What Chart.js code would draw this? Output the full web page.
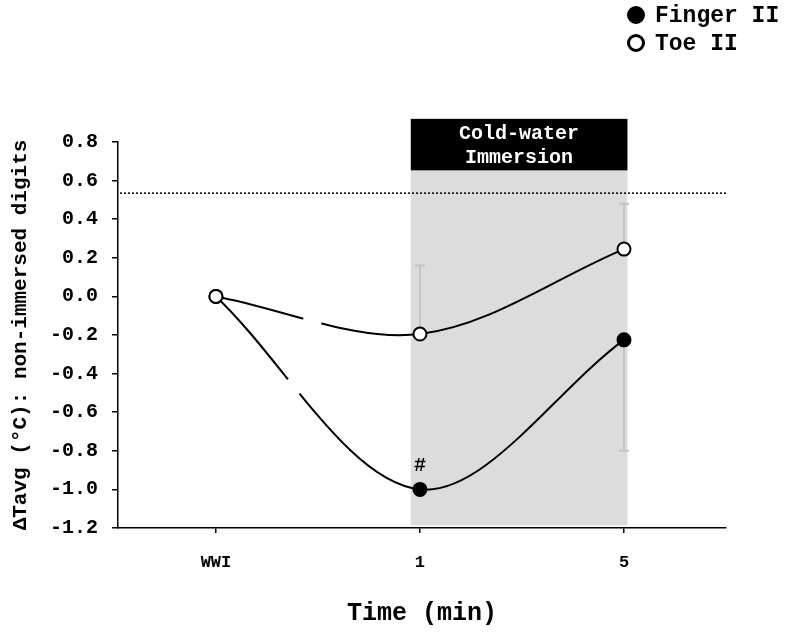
<!DOCTYPE html>
<html><head><meta charset="utf-8">
<script src="https://cdn.jsdelivr.net/npm/chart.js@4/dist/chart.umd.min.js"></script>
<style>html,body{margin:0;padding:0;background:#fff}#wrap{width:786px;height:641px;position:relative}</style>
</head><body><div id="wrap"><canvas id="c" width="786" height="641"></canvas></div>
<script>
const categories = ['WWI', '1', '5'];
const fingerII = [0.0, -1.0, -0.225];
const toeII = [0.0, -0.195, 0.245];
const fingerErrDown = [0, 0, 0.575];
const toeErrUp = [0, 0.355, 0.235];
const yTicks = [0.8, 0.6, 0.4, 0.2, 0.0, -0.2, -0.4, -0.6, -0.8, -1.0, -1.2];
const immersionRange = [0.955, 2.017];
const shadeY = [-1.187, 0.653];
const boxTopY = 0.92;
const refLineY = 0.535;
const toeBreak = [0.426, 0.519];
const fingerBreak = [0.353, 0.411];
const FONT = "'Liberation Mono', 'Courier New', monospace";

const ptsF = fingerII.map((v, i) => ({x: i, y: v}));
const ptsT = toeII.map((v, i) => ({x: i, y: v}));

function drawBreak(chart, dsIndex, range) {
  const {ctx, scales: {x}} = chart;
  const pts = chart.getDatasetMeta(dsIndex).data;
  const p0 = pts[0], p1 = pts[1];
  const bz = (t, a, b, c, d) => {
    const u = 1 - t;
    return u*u*u*a + 3*u*u*t*b + 3*u*t*t*c + t*t*t*d;
  };
  const xa = x.getPixelForValue(range[0]), xb = x.getPixelForValue(range[1]);
  ctx.save();
  ctx.strokeStyle = '#fff'; ctx.lineWidth = 6; ctx.lineCap = 'butt';
  ctx.beginPath();
  let started = false;
  for (let i = 0; i <= 400; i++) {
    const t = i / 400;
    const px = bz(t, p0.x, p0.cp2x, p1.cp1x, p1.x);
    const py = bz(t, p0.y, p0.cp2y, p1.cp1y, p1.y);
    if (px >= xa && px <= xb) {
      if (!started) { ctx.moveTo(px, py); started = true; } else ctx.lineTo(px, py);
    }
  }
  ctx.stroke();
  ctx.restore();
}

const decor = {
  id: 'decor',
  beforeDatasetsDraw(chart) {
    const {ctx, scales: {x, y}} = chart;
    ctx.save();
    const x0 = x.getPixelForValue(immersionRange[0]), x1 = x.getPixelForValue(immersionRange[1]);
    ctx.fillStyle = '#dcdcdc';
    ctx.fillRect(x0, y.getPixelForValue(shadeY[1]), x1 - x0, y.getPixelForValue(shadeY[0]) - y.getPixelForValue(shadeY[1]));
    ctx.fillStyle = '#000';
    const by0 = y.getPixelForValue(boxTopY), by1 = y.getPixelForValue(shadeY[1]);
    ctx.fillRect(x0, by0, x1 - x0, by1 - by0);
    ctx.fillStyle = '#fff';
    ctx.font = "bold 20px " + FONT;
    ctx.textAlign = 'center'; ctx.textBaseline = 'middle';
    const cx = (x0 + x1) / 2;
    ctx.fillText('Cold-water', cx, by0 + (by1 - by0) * 0.29);
    ctx.fillText('Immersion', cx, by0 + (by1 - by0) * 0.75);
    ctx.strokeStyle = '#000'; ctx.lineWidth = 1.5; ctx.setLineDash([2, 2]);
    ctx.beginPath();
    ctx.moveTo(x.left + 2, y.getPixelForValue(refLineY));
    ctx.lineTo(x.right, y.getPixelForValue(refLineY));
    ctx.stroke();
    ctx.setLineDash([]);
    ctx.strokeStyle = '#c4c4c4'; ctx.lineWidth = 2;
    const bar = (i, from, to) => {
      const px = x.getPixelForValue(i);
      ctx.beginPath();
      ctx.moveTo(px, y.getPixelForValue(from)); ctx.lineTo(px, y.getPixelForValue(to));
      ctx.moveTo(px - 5, y.getPixelForValue(to)); ctx.lineTo(px + 5, y.getPixelForValue(to));
      ctx.stroke();
    };
    toeII.forEach((v, i) => { if (toeErrUp[i] > 0) bar(i, v, v + toeErrUp[i]); });
    fingerII.forEach((v, i) => { if (fingerErrDown[i] > 0) bar(i, v, v - fingerErrDown[i]); });
    ctx.restore();
  },
  afterDatasetsDraw(chart) {
    const {ctx, scales: {x, y}} = chart;
    drawBreak(chart, 0, toeBreak);
    drawBreak(chart, 1, fingerBreak);
    ctx.save();
    ctx.fillStyle = '#000';
    ctx.font = "bold 20px " + FONT;
    ctx.textAlign = 'center'; ctx.textBaseline = 'middle';
    ctx.fillText('#', x.getPixelForValue(1), y.getPixelForValue(fingerII[1]) - 23);
    ctx.font = "bold 23px " + FONT;
    ctx.textAlign = 'left';
    const items = [{label: 'Finger II', fill: '#000'}, {label: 'Toe II', fill: '#fff'}];
    items.forEach((it, k) => {
      const ly = 15 + k * 28;
      ctx.beginPath(); ctx.arc(636, ly, 7.5, 0, Math.PI * 2);
      ctx.fillStyle = it.fill; ctx.fill();
      ctx.lineWidth = 3; ctx.strokeStyle = '#000'; ctx.stroke();
      ctx.fillStyle = '#000';
      ctx.fillText(it.label, 655, ly + 1);
    });
    ctx.restore();
  }
};

new Chart(document.getElementById('c'), {
  type: 'line',
  data: {
    datasets: [
      {label: 'Toe II', data: ptsT, borderColor: '#000', borderWidth: 2, backgroundColor: '#fff',
       pointBackgroundColor: '#fff', pointBorderColor: '#000', pointRadius: 6.5, pointBorderWidth: 2,
       tension: 1/3},
      {label: 'Finger II', data: ptsF, borderColor: '#000', borderWidth: 2, backgroundColor: '#000',
       pointBackgroundColor: '#000', pointBorderColor: '#000', pointRadius: 6.5, pointBorderWidth: 2,
       tension: 1/3}
    ]
  },
  options: {
    responsive: false, animation: false,
    layout: {padding: {top: 142, right: 60, left: 0, bottom: 0}},
    plugins: {legend: {display: false}, tooltip: {enabled: false}},
    scales: {
      x: {
        type: 'linear', min: -0.48, max: 2.5,
        afterBuildTicks: (s) => { s.ticks = categories.map((c, i) => ({value: i})); },
        afterFit: (s) => { s.height = 113; },
        border: {color: '#000', width: 1.5},
        grid: {drawOnChartArea: false, drawTicks: true, tickLength: 5, color: '#000', lineWidth: 1.5},
        ticks: {padding: 20, color: '#000', font: {family: FONT, size: 17, weight: 'bold'},
                maxRotation: 0, callback: (v) => categories[v]},
        title: {display: true, text: 'Time (min)', color: '#000', padding: {top: 0, bottom: 12},
                font: {family: FONT, size: 25, weight: 'bold'}}
      },
      y: {
        min: -1.2, max: 0.8,
        afterBuildTicks: (s) => { s.ticks = yTicks.map(v => ({value: v})); },
        afterFit: (s) => { s.width = 118; },
        border: {color: '#000', width: 1.5},
        grid: {drawOnChartArea: false, drawTicks: true, tickLength: 6, color: '#000', lineWidth: 1.5},
        ticks: {padding: 14, color: '#000', font: {family: FONT, size: 20, weight: 'bold'},
                callback: (v) => v.toFixed(1)},
        title: {display: true, text: 'ΔTavg (°C): non-immersed digits', color: '#000', padding: {top: 8, bottom: 0},
                font: {family: FONT, size: 21, weight: 'bold'}}
      }
    }
  },
  plugins: [decor]
});
</script></body></html>
